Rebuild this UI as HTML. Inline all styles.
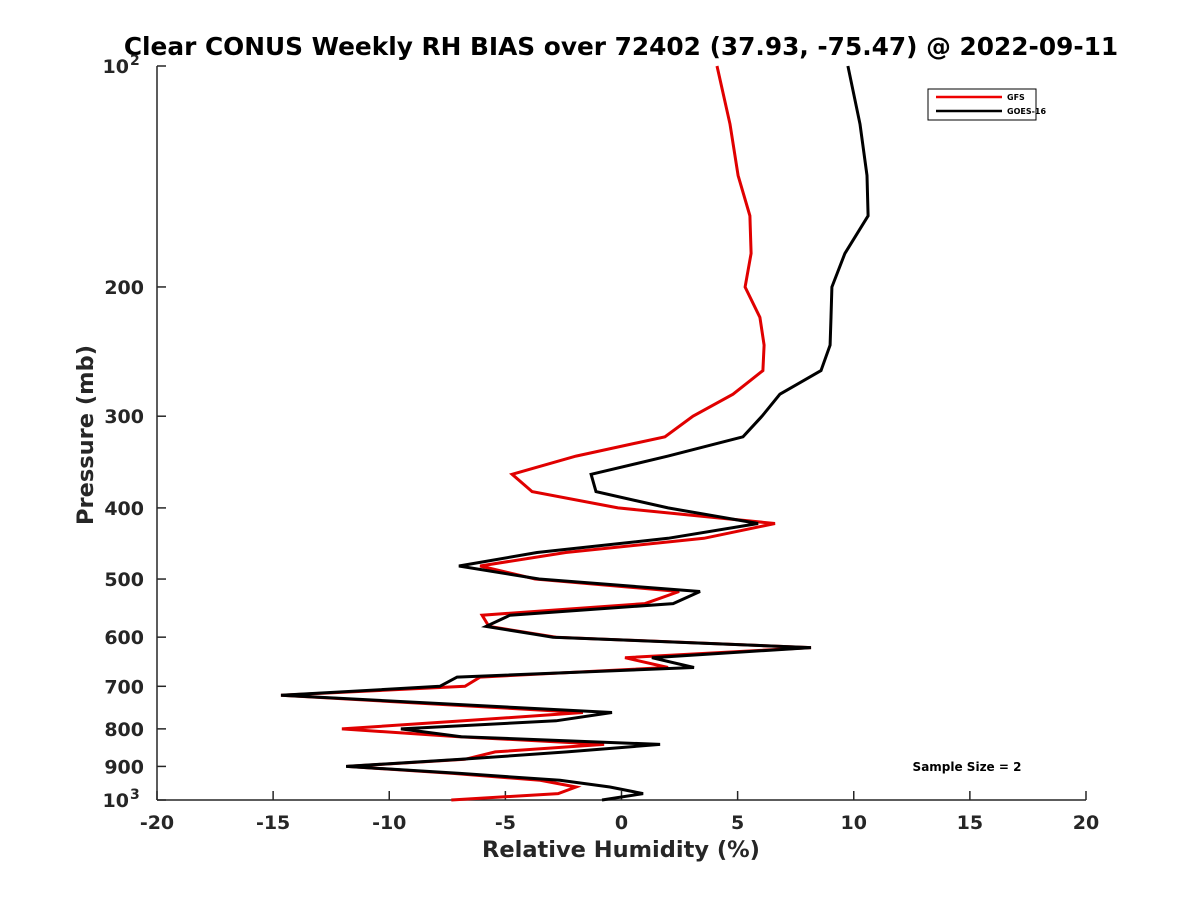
<!DOCTYPE html>
<html><head><meta charset="utf-8"><style>
html,body{margin:0;padding:0;background:#fff;}
svg{display:block;font-family:"DejaVu Sans","Liberation Sans",sans-serif;}
</style></head><body>
<svg id="chart" width="1200" height="900" viewBox="0 0 1200 900">
<rect width="1200" height="900" fill="#fff"/>
<text x="621" y="55" text-anchor="middle" font-size="24.8" font-weight="bold">Clear CONUS Weekly RH BIAS over 72402 (37.93, -75.47) @ 2022-09-11</text>
<g id="axes"></g>
<g id="series"></g>
<text x="621" y="857" text-anchor="middle" font-size="22.5" font-weight="bold" fill="#262626">Relative Humidity (%)</text>
<text transform="translate(93,435) rotate(-90)" text-anchor="middle" font-size="22.5" font-weight="bold" fill="#262626">Pressure (mb)</text>
<g>
<rect x="928" y="89" width="108" height="31" fill="#fff" stroke="#000" stroke-width="1"/>
<line x1="936" y1="97" x2="1002" y2="97" stroke="#e00" stroke-width="2.5"/>
<text x="1007" y="100" font-size="8" font-weight="bold">GFS</text>
<line x1="936" y1="111" x2="1002" y2="111" stroke="#000" stroke-width="2.5"/>
<text x="1007" y="114" font-size="8" font-weight="bold">GOES-16</text>
</g>
<text x="967" y="771" text-anchor="middle" font-size="12" font-weight="bold">Sample Size = 2</text>
</svg>
<script>
const levels=[100,120,141,160,180,200,220,240,260,280,300,320,340,360,380,400,420,440,460,480,500,520,540,560,580,600,620,640,660,680,700,720,760,780,800,820,840,860,880,900,920,940,960,980,1000];
const gfs=[4.11,4.67,5.02,5.53,5.58,5.32,5.96,6.14,6.09,4.80,3.08,1.87,-1.96,-4.71,-3.85,-0.15,6.61,3.55,-2.4,-6.09,-3.72,2.48,1.01,-6.0,-5.71,-2.82,8.16,0.15,2.0,-6.09,-6.74,-14.66,-1.66,-6.8,-12.04,-7.0,-0.75,-5.44,-6.74,-11.8,-7.25,-3.5,-1.96,-2.73,-7.33];
const goes=[9.75,10.27,10.57,10.62,9.62,9.06,9.02,8.98,8.59,6.82,6.05,5.23,2.0,-1.31,-1.10,2.0,5.88,2.0,-3.64,-7.0,-3.55,3.38,2.22,-4.8,-5.83,-2.95,8.16,1.31,3.12,-7.08,-7.82,-14.66,-0.41,-2.82,-9.5,-6.9,1.66,-2.35,-6.9,-11.86,-6.95,-2.65,-0.5,0.93,-0.84];
const xTicks=[-20,-15,-10,-5,0,5,10,15,20];
const yTicks=[100,200,300,400,500,600,700,800,900,1000];
const yTickLabels=["10|2","200","300","400","500","600","700","800","900","10|3"];
const X0=157,X1=1086,Y0=66,Y1=800;
const xs=v=>X0+(v+20)/40*(X1-X0);
const ys=p=>Y0+Math.log10(p/100)*(Y1-Y0);
const NS="http://www.w3.org/2000/svg";
const axes=document.getElementById('axes');
function mk(tag,attrs,parent){const e=document.createElementNS(NS,tag);for(const k in attrs)e.setAttribute(k,attrs[k]);parent.appendChild(e);return e;}
let l=mk('line',{x1:X0,y1:Y0,x2:X0,y2:Y1,stroke:'#262626','stroke-width':1.5},axes);


l=mk('line',{x1:X0,y1:Y1,x2:X1,y2:Y1,stroke:'#262626','stroke-width':1.5},axes);


xTicks.forEach(v=>{
 const x=xs(v);
 const t=mk('line',{x1:x,y1:Y1,x2:x,y2:Y1-9,stroke:'#262626','stroke-width':1.5},axes);
 
 
 const tx=mk('text',{x:x,y:Y1+29,'text-anchor':'middle','font-size':19,'font-weight':'bold',fill:'#262626'},axes);
 tx.textContent=String(v);
 
 
});
yTicks.forEach((p,i)=>{
 const y=ys(p);
 const t=mk('line',{x1:X0,y1:y,x2:X0+9,y2:y,stroke:'#262626','stroke-width':1.5},axes);
 
 
 const lab=yTickLabels[i];
 if(lab.indexOf('|')>=0){
  const parts=lab.split('|');
  const tx=mk('text',{x:X0-28,y:y+7,'text-anchor':'end','font-size':19,'font-weight':'bold',fill:'#262626'},axes);
  tx.textContent=parts[0];
  
  
  const sp=mk('text',{x:X0-27,y:y-1,'text-anchor':'start','font-size':14,'font-weight':'bold',fill:'#262626'},axes);
  sp.textContent=parts[1];
  
  
 } else {
  const tx=mk('text',{x:X0-13,y:y+7,'text-anchor':'end','font-size':19,'font-weight':'bold',fill:'#262626'},axes);
  tx.textContent=lab;
  
  
 }
});
const sg=document.getElementById('series');
function draw(vals,color,name){
 const pts=vals.map((v,i)=>xs(v).toFixed(1)+','+ys(levels[i]).toFixed(1)).join(' ');
 const pl=mk('polyline',{points:pts,fill:'none',stroke:color,'stroke-width':3,'stroke-linejoin':'miter'},sg);
 
 
}
draw(gfs,'#e00000','gfs-line');
draw(goes,'#000000','goes16-line');
</script>
</body></html>
